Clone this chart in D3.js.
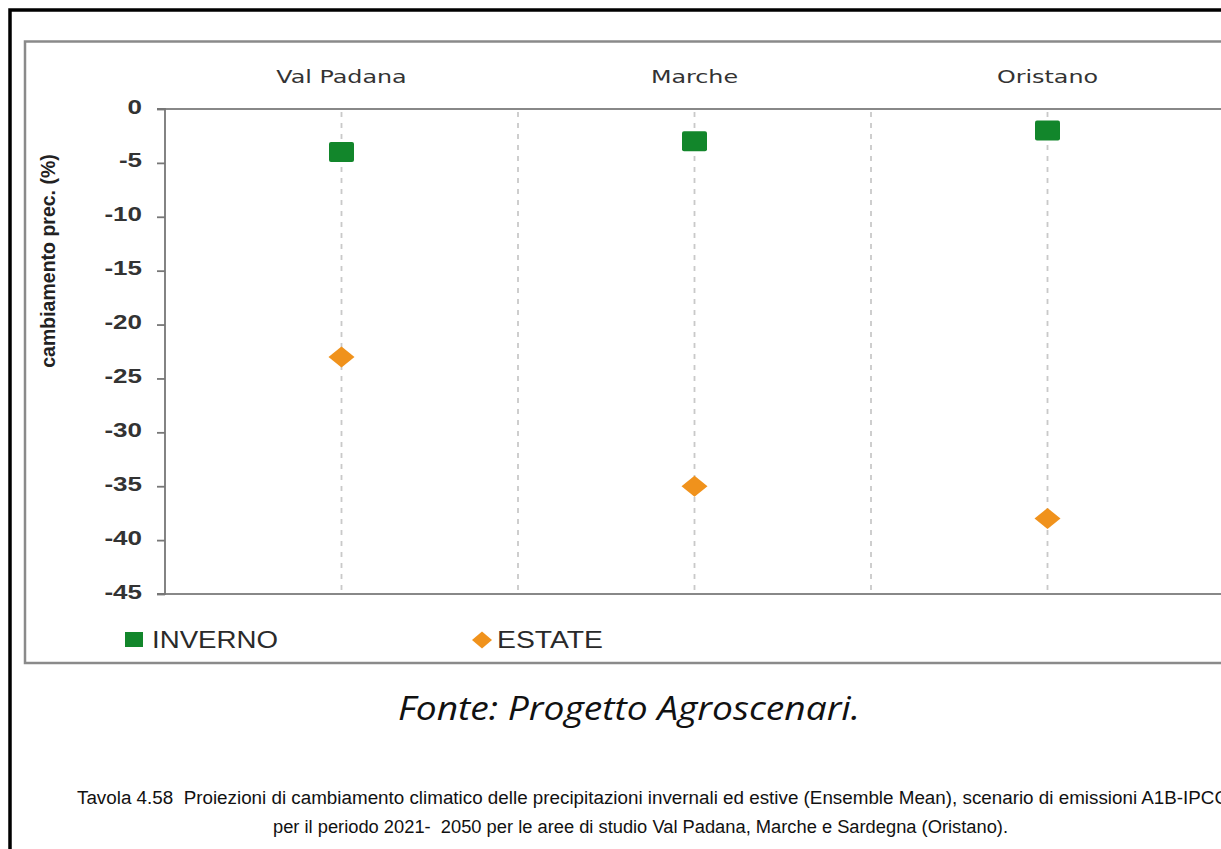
<!DOCTYPE html>
<html><head><meta charset="utf-8">
<script src="https://cdn.jsdelivr.net/npm/d3@7"></script>
<style>
html,body{margin:0;padding:0;background:#fff;overflow:hidden}
svg{display:block}
</style></head>
<body>
<svg id="c" width="1221" height="849"></svg>
<script>
const categories = ["Val Padana", "Marche", "Oristano"];
const inverno = [-4, -3, -2];
const estate = [-23, -35, -38];
const yTicks = [0, -5, -10, -15, -20, -25, -30, -35, -40, -45];
const seriesNames = ["INVERNO", "ESTATE"];
const yTitle = "cambiamento prec. (%)";
const source = "Fonte: Progetto Agroscenari.";
const caption1 = "Tavola 4.58  Proiezioni di cambiamento climatico delle precipitazioni invernali ed estive (Ensemble Mean), scenario di emissioni A1B-IPCC";
const caption2 = "per il periodo 2021-  2050 per le aree di studio Val Padana, Marche e Sardegna (Oristano).";

(function(){
const svg = d3.select("#c");
const green = "#12862b", orange = "#f0921c";
const sans = "Liberation Sans, Arial, sans-serif";

function stretch(sel, k){
  sel.each(function(){
    const w = this.getComputedTextLength();
    d3.select(this).attr("textLength", w*k).attr("lengthAdjust","spacingAndGlyphs");
  });
}
function fitWidth(sel, w){
  sel.attr("textLength", w).attr("lengthAdjust","spacingAndGlyphs");
}

// outer black border
svg.append("path").attr("d","M10,849 L10,10 L1221,10").attr("fill","none").attr("stroke","#000").attr("stroke-width",3.5);
// grey frame
svg.append("rect").attr("x",25).attr("y",41.5).attr("width",1220).attr("height",621.5)
  .attr("fill","none").attr("stroke","#8a8a8a").attr("stroke-width",2.5);

const pL = 165, pR = 1224, pT = 109, pB = 594;
const x = d3.scaleBand().domain(categories).range([pL, pR]);
const y = d3.scaleLinear().domain([-45, 0]).range([pB, pT]);

const vLines = [];
categories.forEach((c,i)=>{ vLines.push(x(c)+x.bandwidth()/2); if(i>0) vLines.push(x(c)); });
svg.append("g").selectAll("line").data(vLines).enter().append("line")
  .attr("x1",d=>d).attr("x2",d=>d).attr("y1",pT+3).attr("y2",pB-3)
  .attr("stroke","#c9c9c9").attr("stroke-width",1.8).attr("stroke-dasharray","5,6");

svg.append("line").attr("x1",pL-8).attr("x2",1221).attr("y1",pT).attr("y2",pT).attr("stroke","#888").attr("stroke-width",1.8);
svg.append("line").attr("x1",pL-8).attr("x2",1221).attr("y1",pB).attr("y2",pB).attr("stroke","#888").attr("stroke-width",2.2);

const yAxis = d3.axisLeft(y).tickValues(yTicks).tickSize(8).tickPadding(15).tickFormat(d=>String(d));
const ya = svg.append("g").attr("transform",`translate(${pL},0)`).call(yAxis);
ya.select(".domain").attr("stroke","#777").attr("stroke-width",1.8).attr("d",`M-8,${pT}H0V${pB}H-8`);
ya.selectAll(".tick line").attr("stroke","#777").attr("stroke-width",1.8);
ya.selectAll(".tick text").attr("font-family",sans).attr("font-weight","bold").attr("font-size",20).attr("fill","#333").attr("dy","0.2em");
stretch(ya.selectAll(".tick text"), 1.3);

svg.append("text").attr("transform",`translate(55,261) rotate(-90)`).attr("text-anchor","middle")
  .attr("font-family",sans).attr("font-weight","bold").attr("font-size",19.5).attr("fill","#222").text(yTitle);

const cat = svg.selectAll("text.cat").data(categories).enter().append("text")
  .attr("x",d=>x(d)+x.bandwidth()/2).attr("y",83).attr("text-anchor","middle")
  .attr("font-family","DejaVu Sans, sans-serif").attr("font-size",17).attr("fill","#333").text(d=>d);
stretch(cat, 1.4);

svg.selectAll("rect.inv").data(inverno).enter().append("rect")
  .attr("x",(d,i)=>x(categories[i])+x.bandwidth()/2-12.5).attr("y",d=>y(d)-10)
  .attr("width",25).attr("height",20).attr("rx",2).attr("fill",green);

svg.selectAll("path.est").data(estate).enter().append("path")
  .attr("transform",(d,i)=>`translate(${x(categories[i])+x.bandwidth()/2},${y(d)})`)
  .attr("d","M-13,0 L0,-10.5 L13,0 L0,10.5 Z").attr("fill",orange);

svg.append("rect").attr("x",125).attr("y",632).attr("width",18).attr("height",15).attr("fill",green);
fitWidth(svg.append("text").attr("x",152).attr("y",648).attr("font-family",sans).attr("font-size",23).attr("fill","#2a2a2a").text(seriesNames[0]), 126);
svg.append("path").attr("transform","translate(482,640)").attr("d","M-10,0 L0,-8.5 L10,0 L0,8.5 Z").attr("fill",orange);
fitWidth(svg.append("text").attr("x",497).attr("y",648).attr("font-family",sans).attr("font-size",23).attr("fill","#2a2a2a").text(seriesNames[1]), 106);

fitWidth(svg.append("text").attr("x",398).attr("y",720)
  .attr("font-family","Open Sans, sans-serif").attr("font-style","italic").attr("font-size",32).attr("fill","#111").text(source), 462);

fitWidth(svg.append("text").attr("x",77).attr("y",804).style("white-space","pre")
  .attr("font-family",sans).attr("font-size",18).attr("fill","#111").text(caption1), 1151);
fitWidth(svg.append("text").attr("x",273).attr("y",833).style("white-space","pre")
  .attr("font-family",sans).attr("font-size",18).attr("fill","#111").text(caption2), 735);
})();
</script>
</body></html>
